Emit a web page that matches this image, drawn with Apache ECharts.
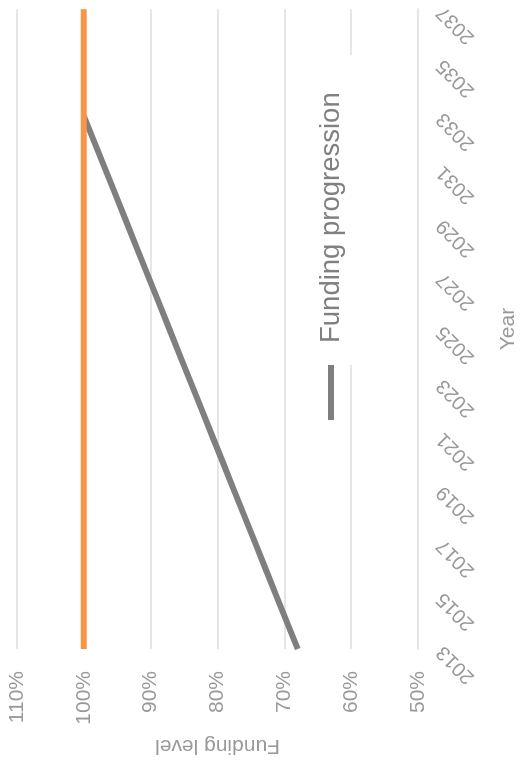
<!DOCTYPE html>
<html>
<head>
<meta charset="utf-8">
<script src="https://cdn.jsdelivr.net/npm/echarts@6/dist/echarts.min.js"></script>
<style>
  html, body { margin: 0; padding: 0; width: 524px; height: 765px; overflow: hidden; background: #fff; }
  /* the chart is laid out landscape and turned a quarter turn counter-clockwise */
  #chart {
    position: absolute; left: 0; top: 0;
    width: 765px; height: 524px;
    transform-origin: 0 0;
    transform: translate(0, 765px) rotate(-90deg);
  }
</style>
</head>
<body>
<div id="chart"></div>
<script>
// Funding level projection, one point per year
const years = [2013, 2014, 2015, 2016, 2017, 2018, 2019, 2020, 2021, 2022, 2023,
               2024, 2025, 2026, 2027, 2028, 2029, 2030, 2031, 2032, 2033];
const fundingProgression = [68, 69.6, 71.2, 72.8, 74.4, 76, 77.6, 79.2, 80.8, 82.4, 84,
                            85.6, 87.2, 88.8, 90.4, 92, 93.6, 95.2, 96.8, 98.4, 100];
// Fully funded target across the whole horizon
const targetYears = [2013, 2037];
const targetLevel = [100, 100];

const yearMin = 2013, yearMax = 2037, yearStep = 2;
const levelMin = 50, levelMax = 110, levelStep = 10;

const textGray = '#999999';
const gridGray = '#e6e6e6';
const fontFamily = '"Liberation Sans", Arial, sans-serif';

const chart = echarts.init(document.getElementById('chart'), null, { renderer: 'canvas' });

chart.setOption({
  animation: false,
  backgroundColor: '#ffffff',
  textStyle: { fontFamily: fontFamily },
  grid: { left: 116, right: 5, top: 17, bottom: 104, containLabel: false },
  legend: {
    data: ['Funding progression'],
    left: 340,
    top: 312,
    icon: 'rect',
    itemWidth: 55,
    itemHeight: 6,
    selectedMode: false,
    textStyle: { fontSize: 27.5, color: '#808080', fontFamily: fontFamily, padding: [0, 0, 0, 17] },
    z: 5
  },
  graphic: [{
    type: 'rect',
    z: 1,
    silent: true,
    shape: { x: 400, y: 300, width: 310, height: 62 },
    style: { fill: '#ffffff' }
  }],
  xAxis: {
    type: 'value',
    min: yearMin,
    max: yearMax,
    interval: yearStep,
    name: 'Year',
    nameLocation: 'middle',
    nameGap: 80,
    nameTextStyle: { fontSize: 21, color: textGray },
    axisLine: { show: true, lineStyle: { color: gridGray, width: 2 } },
    axisTick: { show: false },
    splitLine: { show: false },
    axisLabel: {
      rotate: 45,
      margin: 22,
      fontSize: 20,
      color: textGray,
      formatter: (v) => String(v)
    }
  },
  yAxis: {
    type: 'value',
    min: levelMin,
    max: levelMax,
    interval: levelStep,
    name: 'Funding level',
    nameLocation: 'middle',
    nameGap: 83,
    nameTextStyle: { fontSize: 21, color: textGray },
    axisLine: { show: false },
    axisTick: { show: false },
    splitLine: { show: true, lineStyle: { color: gridGray, width: 2 } },
    axisLabel: { margin: 22, fontSize: 21, color: textGray, formatter: '{value}%' }
  },
  series: [
    {
      name: 'Funding progression',
      type: 'line',
      data: years.map((y, i) => [y, fundingProgression[i]]),
      showSymbol: false,
      symbol: 'none',
      lineStyle: { color: '#7f7f7f', width: 6, cap: 'butt' },
      itemStyle: { color: '#7f7f7f' },
      z: 2
    },
    {
      name: 'Target',
      type: 'line',
      data: targetYears.map((y, i) => [y, targetLevel[i]]),
      showSymbol: false,
      symbol: 'none',
      lineStyle: { color: '#f79646', width: 6, cap: 'butt' },
      itemStyle: { color: '#f79646' },
      z: 3
    }
  ]
});
</script>
</body>
</html>
